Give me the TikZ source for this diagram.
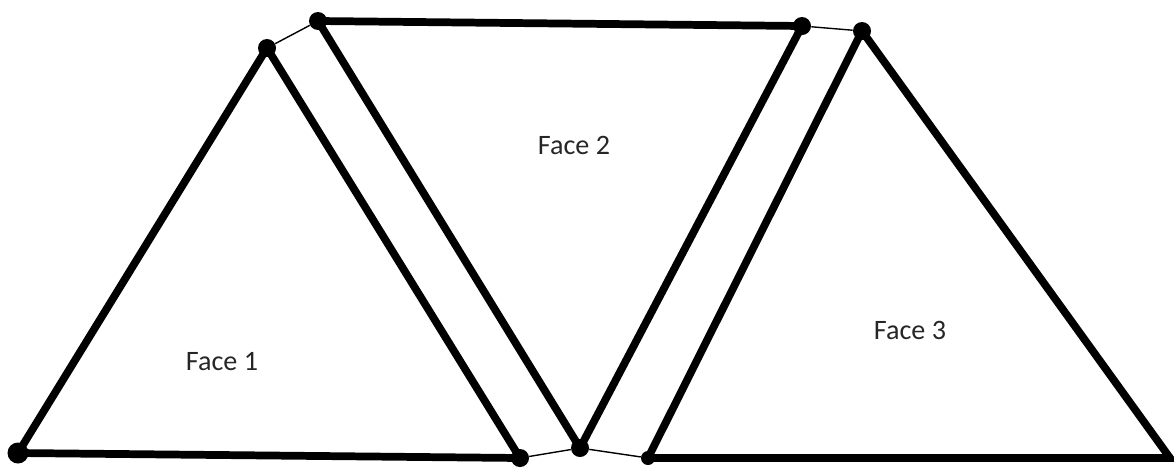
\documentclass[tikz,border=0pt]{standalone}
\usepackage{fontspec}
\setmainfont{Carlito}
\usetikzlibrary{positioning}

\begin{document}
\begin{tikzpicture}[
    x=0.2mm, y=-0.2mm,
    vertex/.style={circle, fill=black, inner sep=0pt, minimum size=3.6mm},
    bigvertex/.style={vertex, minimum size=4.2mm},
    smallvertex/.style={vertex, minimum size=2.8mm},
    edge_line/.style={line width=4.4pt, line cap=round},
    link_line/.style={line width=0.8pt},
    face_label/.style={font=\fontsize{16}{18}\selectfont, text=black!85}
]
\useasboundingbox (0,0) rectangle (1174,471);

% --- Face 1 ---
\node[bigvertex] (A1) at (18,453) {};
\node[vertex] (A2) at (267,48) {};
\node[vertex] (A3) at (520,458) {};

% --- Face 2 ---
\node[vertex] (B1) at (318,21) {};
\node[vertex] (B2) at (802,26) {};
\node[vertex] (B3) at (580,448) {};

% --- Face 3 ---
\node[vertex] (C1) at (862,31) {};
\node[smallvertex] (C2) at (648,458) {};
\coordinate (C3) at (1170,458);

% Triangle edges
\draw[edge_line] (A1.center) -- (A2.center) -- (A3.center) -- cycle;
\draw[edge_line] (B1.center) -- (B2.center) -- (B3.center) -- cycle;
\draw[edge_line] (C1.center) -- (C2.center) -- (C3) -- cycle;

% Thin links between faces
\draw[link_line] (A2) -- (B1);
\draw[link_line] (B2) -- (C1);
\draw[link_line] (A3) -- (B3);
\draw[link_line] (B3) -- (C2);

% Labels
\node[face_label] (L1) at (222,362) {Face 1};
\node[face_label] (L2) at (574,145) {Face 2};
\node[face_label] (L3) at (910,330) {Face 3};

\end{tikzpicture}
\end{document}
